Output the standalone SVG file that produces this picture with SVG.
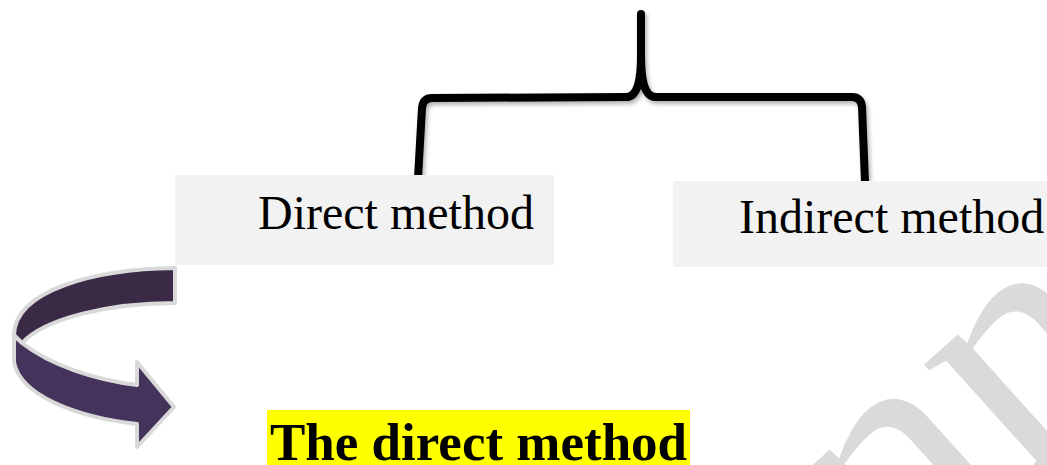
<svg xmlns="http://www.w3.org/2000/svg" width="1047" height="465" viewBox="0 0 1047 465">
  <defs>
    <style>
      .box { fill: #f2f2f2; }
      .lbl { font-family: "Liberation Serif", "Times New Roman", serif; font-size: 48px; fill: #000; }
      .title { font-family: "Liberation Serif", "Times New Roman", serif; font-size: 53px; font-weight: bold; fill: #000; }
      .brace { fill: none; stroke: #000; stroke-width: 8; stroke-linecap: round; stroke-linejoin: round; }
      .band { stroke: #d9d9d9; stroke-width: 4; stroke-linejoin: round; }
      .wm { font-family: "Liberation Serif", "Times New Roman", serif; font-size: 345px; fill: #dadada; }
    </style>
    <filter id="shadow" x="-10%" y="-10%" width="120%" height="130%">
      <feDropShadow dx="2" dy="3" stdDeviation="2" flood-color="#000" flood-opacity="0.3"/>
    </filter>
  </defs>
  <rect width="1047" height="465" fill="#ffffff"/>

  <g id="watermark">
    <text class="wm" x="0" y="0" transform="translate(896 603) rotate(-42)">nn</text>
  </g>

  <g id="connectors">
    <path class="brace" filter="url(#shadow)" d="M 641 14 L 641 55 C 641 82 637 97 626 97 L 432 98 Q 423 98 422 108 L 418 178 M 641 55 C 641 82 645 97 656 97 L 852 97 Q 861 97 862 107 L 865 182"/>
  </g>

  <g id="node-direct">
    <rect class="box" x="175" y="175" width="379" height="90"/>
    <text class="lbl" x="258" y="229">Direct method</text>
  </g>

  <g id="node-indirect">
    <rect class="box" x="673" y="181" width="380" height="86"/>
    <text class="lbl" x="739" y="233">Indirect method</text>
  </g>

  <g id="curved-arrow">
    <path class="band" fill="#3a2a46" d="M 175 268 C 95 269 15 290 14 335 L 22 343 C 45 318 110 303 175 303 Z"/>
    <path class="band" fill="#44335a" d="M 14 336 L 14 362 C 20 395 75 417 137 424 L 137 447 L 174 407 L 137 362 L 137 385 C 95 380 50 365 22 343 Z"/>
  </g>

  <g id="heading">
    <rect x="267" y="410" width="423" height="60" fill="#ffff00"/>
    <text class="title" x="270" y="460">The direct method</text>
  </g>
</svg>
